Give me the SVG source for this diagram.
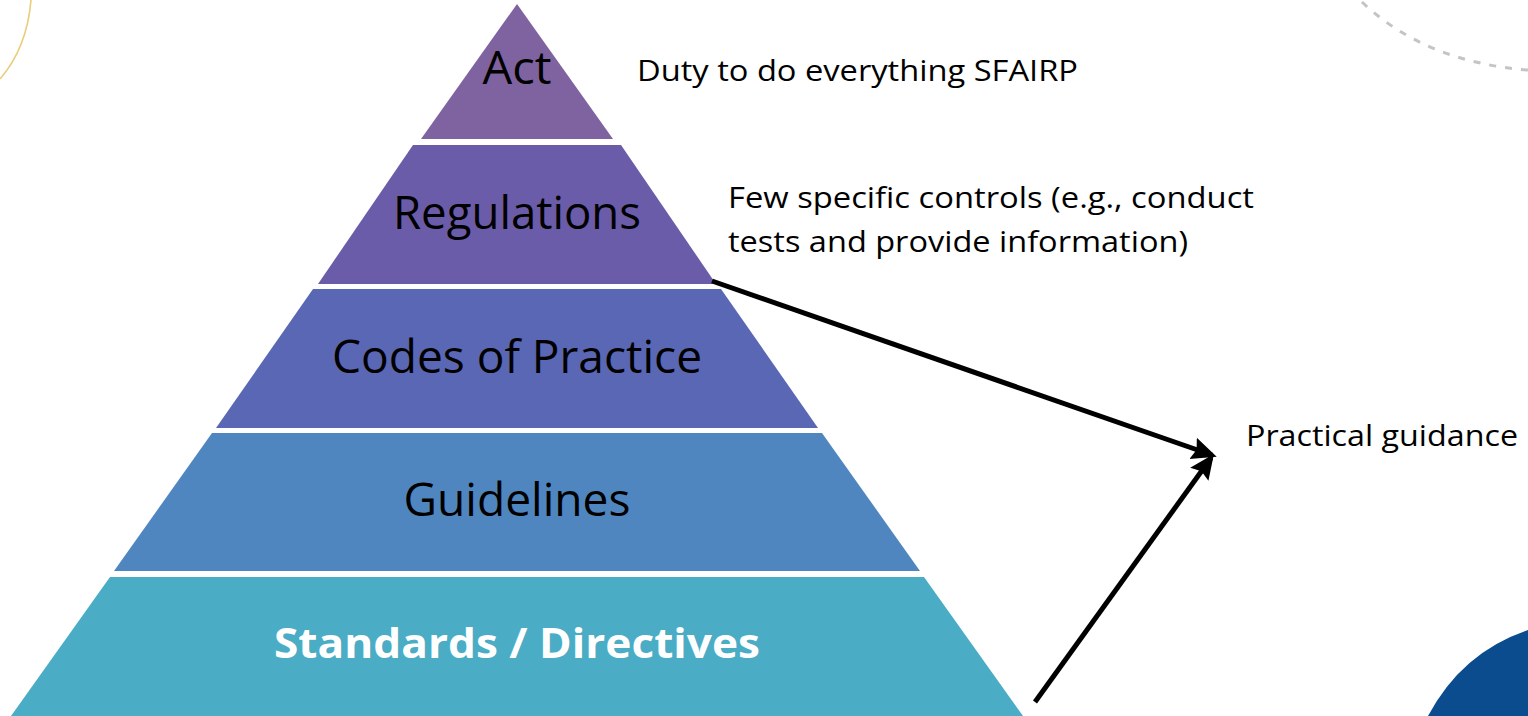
<svg xmlns="http://www.w3.org/2000/svg" width="1528" height="716" viewBox="0 0 1528 716">
<defs>
<style>
.lbl{font-family:"Open Sans","Noto Sans",sans-serif;fill:#000;text-anchor:middle}
.note{font-family:"Open Sans","Noto Sans",sans-serif;fill:#000;font-size:30px}
.big{font-size:45px}
.conn{stroke:#000;stroke-width:5;fill:none;marker-end:url(#ah)}
</style>
<marker id="ah" viewBox="0 0 10 10" refX="8" refY="5" markerWidth="5" markerHeight="5" orient="auto" markerUnits="strokeWidth">
<path d="M0,0.5 L10,5 L0,9.5 L1.5,5 Z" fill="#000"/>
</marker>
</defs>
<rect width="1528" height="716" fill="#fff"/>
<!-- decorations -->
<path d="M31 0 Q27 48 0 79" fill="none" stroke="#E9CD79" stroke-width="1.6"/>
<path d="M1362 2 Q1425 62 1528 70" fill="none" stroke="#C4C4C4" stroke-width="3" stroke-dasharray="7 9"/>
<path d="M1428 716 Q1462 652 1528 630 L1528 716 Z" fill="#0B4C8F"/>

<g id="act">
<polygon points="517,4 613,139 421,139" fill="#7F63A1"/>
<text class="lbl big" x="517" y="84" textLength="69" lengthAdjust="spacingAndGlyphs">Act</text>
</g>
<g id="regulations">
<polygon points="413,145 621,145 716,284 318,284" fill="#6A5CA8"/>
<text class="lbl big" x="517" y="229" textLength="248" lengthAdjust="spacingAndGlyphs">Regulations</text>
</g>
<g id="codes">
<polygon points="313,289 721,289 818,428 216,428" fill="#5967B4"/>
<text class="lbl big" x="517" y="373" textLength="370" lengthAdjust="spacingAndGlyphs">Codes of Practice</text>
</g>
<g id="guidelines">
<polygon points="212,433 822,433 920,571 114,571" fill="#5086BF"/>
<text class="lbl big" x="517" y="516" textLength="227" lengthAdjust="spacingAndGlyphs">Guidelines</text>
</g>
<g id="standards">
<polygon points="110,577 924,577 1023,716 11,716" fill="#4AACC5"/>
<text class="lbl" x="517" y="658" font-size="41" font-weight="bold" style="fill:#fff" textLength="486" lengthAdjust="spacingAndGlyphs">Standards / Directives</text>
</g>

<g id="notes">
<text class="note" x="637" y="81" font-size="33" textLength="441" lengthAdjust="spacingAndGlyphs">Duty to do everything SFAIRP</text>
<text class="note" x="728" y="208" textLength="526" lengthAdjust="spacingAndGlyphs">Few specific controls (e.g., conduct</text>
<text class="note" x="728" y="252" textLength="460" lengthAdjust="spacingAndGlyphs">tests and provide information)</text>
<text class="note" x="1246" y="446" textLength="272" lengthAdjust="spacingAndGlyphs">Practical guidance</text>
</g>

<g id="connectors">
<line class="conn" x1="712" y1="281" x2="1212" y2="455"/>
<line class="conn" x1="1035" y1="702" x2="1211" y2="458"/>
</g>
</svg>
